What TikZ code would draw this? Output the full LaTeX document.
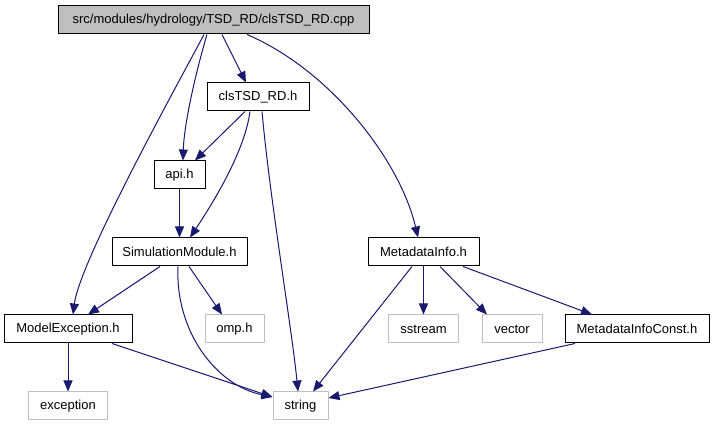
\documentclass[tikz,border=0pt]{standalone}
\usepackage{fontspec}
\setmainfont{Liberation Sans}
\usetikzlibrary{arrows.meta}
\definecolor{edgeblue}{HTML}{191970}
\definecolor{extgray}{HTML}{BFBFBF}
\begin{document}
\begin{tikzpicture}[x=1pt,y=-1pt,
  box/.style={draw=black, line width=1pt, minimum height=28pt, inner sep=0pt, font=\fontsize{13}{16}\selectfont},
  ext/.style={box, draw=extgray},
  edge/.style={draw=edgeblue, line width=1pt, -{Triangle[length=11pt,width=9pt]}}]
\useasboundingbox (0,0) rectangle (715,427);
\node[box, fill=extgray, minimum width=311pt] (top) at (213.5,20) {src/modules/hydrology/TSD\_RD/clsTSD\_RD.cpp};
\node[box, minimum width=102pt] (cls) at (258,97) {clsTSD\_RD.h};
\node[box, minimum width=51pt] (api) at (179.5,175) {api.h};
\node[box, minimum width=135pt] (sim) at (179.5,252) {SimulationModule.h};
\node[box, minimum width=111pt] (meta) at (423.5,252) {MetadataInfo.h};
\node[box, minimum width=128pt] (mexc) at (68,329) {ModelException.h};
\node[ext, minimum width=59pt] (omp) at (234.5,329) {omp.h};
\node[ext, minimum width=70pt] (sst) at (423.5,329) {sstream};
\node[ext, minimum width=60pt] (vec) at (512,329) {vector};
\node[box, minimum width=144pt] (mconst) at (637,329) {MetadataInfoConst.h};
\node[ext, minimum width=79pt] (exc) at (68,406) {exception};
\node[ext, minimum width=55pt] (str) at (300.5,406) {string};

\draw[edge] ([xshift=8.5pt]top.south) -- ([xshift=-12pt]cls.north);
\draw[edge] ([xshift=-6.5pt]top.south) .. controls (195,75) and (184,125) .. ([xshift=3.5pt]api.north);
\draw[edge] ([xshift=-9.5pt]top.south) .. controls (180,80) and (80,260) .. ([xshift=5pt]mexc.north);
\draw[edge] ([xshift=33.5pt]top.south) .. controls (330,70) and (400,160) .. ([xshift=-5.5pt]meta.north);
\draw[edge] ([xshift=-13pt]cls.south) -- ([xshift=15.5pt]api.north);
\draw[edge] ([xshift=-8pt]cls.south) .. controls (245,150) and (215,200) .. ([xshift=10.5pt]sim.north);
\draw[edge] ([xshift=4pt]cls.south) .. controls (270,200) and (292,330) .. ([xshift=-2.5pt]str.north);
\draw[edge] (api.south) -- (sim.north);
\draw[edge] ([xshift=-19.5pt]sim.south) -- ([xshift=20pt]mexc.north);
\draw[edge] ([xshift=9.5pt]sim.south) -- ([xshift=-12.5pt]omp.north);
\draw[edge] ([xshift=-1.5pt]sim.south) .. controls (175,330) and (215,385) .. ([yshift=9pt]str.west);
\draw[edge] (mexc.south) -- (exc.north);
\draw[edge] ([xshift=44pt]mexc.south) -- ([yshift=9pt]str.west);
\draw[edge] ([xshift=-11.5pt]meta.south) -- ([xshift=12.5pt]str.north);
\draw[edge] (meta.south) -- (sst.north);
\draw[edge] ([xshift=16.5pt]meta.south) -- ([xshift=-25pt]vec.north);
\draw[edge] ([xshift=39.5pt]meta.south) -- ([xshift=-45pt]mconst.north);
\draw[edge] ([xshift=-62pt]mconst.south) -- ([yshift=8pt]str.east);
\end{tikzpicture}
\end{document}
